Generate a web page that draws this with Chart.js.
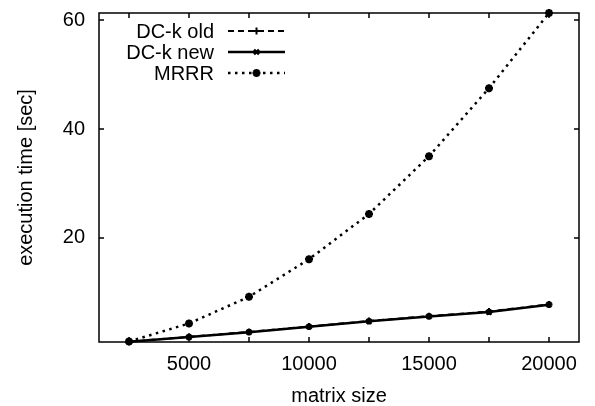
<!DOCTYPE html>
<html>
<head>
<meta charset="utf-8">
<script src="https://cdn.jsdelivr.net/npm/chart.js@4/dist/chart.umd.min.js"></script>
<style>
  html, body { margin: 0; padding: 0; background: #fff; }
  #wrap { width: 595px; height: 406px; }
</style>
</head>
<body>
<div id="wrap"><canvas id="timeChart" width="595" height="406"></canvas></div>
<script>
// data
const sizes = [2500, 5000, 7500, 10000, 12500, 15000, 17500, 20000];
const dckOld = [0.95, 1.85, 2.75, 3.75, 4.75, 5.65, 6.5, 7.8];
const dckNew = [0.95, 1.8, 2.7, 3.7, 4.7, 5.6, 6.4, 7.75];
const mrrr = [1.0, 4.3, 9.2, 16.1, 24.4, 35.0, 47.5, 61.3];

const xTicks = [2500, 5000, 7500, 10000, 12500, 15000, 17500, 20000];
const yTicks = [20, 40, 60];

const FONT = 'Liberation Sans, Arial, sans-serif';

function pts(ys) {
    return sizes.map((x, i) => ({ x: x, y: ys[i] }));
}

// gnuplot style: frame + inward ticks on all four sides
const framePlugin = {
    id: 'frame',
    afterDraw(chart) {
        const { ctx, chartArea: a, scales } = chart;
        ctx.save();
        ctx.strokeStyle = '#000';
        ctx.lineWidth = 1.5;
        ctx.strokeRect(a.left, a.top, a.right - a.left, a.bottom - a.top);
        ctx.beginPath();
        xTicks.forEach(v => {
            const px = scales.x.getPixelForValue(v);
            ctx.moveTo(px, a.bottom); ctx.lineTo(px, a.bottom - 5);
            ctx.moveTo(px, a.top); ctx.lineTo(px, a.top + 5);
        });
        yTicks.forEach(v => {
            const py = scales.y.getPixelForValue(v);
            ctx.moveTo(a.left, py); ctx.lineTo(a.left + 5, py);
            ctx.moveTo(a.right, py); ctx.lineTo(a.right - 5, py);
        });
        ctx.stroke();
        ctx.restore();
    }
};

// legend inside the plot, text right-aligned before the sample
const keyPlugin = {
    id: 'key',
    afterDraw(chart) {
        const ctx = chart.ctx;
        const textRight = 214, x0 = 228, x1 = 285, rows = [31, 52, 73];
        ctx.save();
        ctx.font = '20px ' + FONT;
        ctx.textAlign = 'right';
        ctx.textBaseline = 'middle';
        chart.data.datasets.forEach((ds, i) => {
            const y = rows[i];
            ctx.fillStyle = '#000';
            ctx.fillText(ds.label, textRight, y + 1);
            ctx.beginPath();
            ctx.setLineDash(ds.borderDash || []);
            ctx.lineWidth = ds.borderWidth;
            ctx.strokeStyle = ds.borderColor;
            ctx.moveTo(x0, y); ctx.lineTo(x1, y);
            ctx.stroke();
            ctx.setLineDash([]);
            ctx.lineWidth = ds.pointBorderWidth;
            Chart.helpers.drawPoint(ctx, {
                pointStyle: ds.pointStyle,
                radius: ds.pointRadius,
                rotation: 0,
                borderWidth: ds.pointBorderWidth
            }, (x0 + x1) / 2, y);
        });
        ctx.restore();
    }
};

// drop the extra room Chart.js keeps for edge labels
function noPad(s) {
    s.paddingTop = 0; s.paddingBottom = 0;
    s.paddingLeft = 0; s.paddingRight = 0;
}

const ctx = document.getElementById('timeChart').getContext('2d');
new Chart(ctx, {
    type: 'line',
    data: {
        datasets: [{
            label: 'DC-k old',
            data: pts(dckOld),
            borderColor: '#000',
            backgroundColor: '#000',
            borderWidth: 2,
            borderDash: [6, 4],
            pointStyle: 'cross',
            pointRadius: 3.5,
            pointBorderWidth: 2
        }, {
            label: 'DC-k new',
            data: pts(dckNew),
            borderColor: '#000',
            backgroundColor: '#000',
            borderWidth: 2.5,
            pointStyle: 'crossRot',
            pointRadius: 3.5,
            pointBorderWidth: 2.5
        }, {
            label: 'MRRR',
            data: pts(mrrr),
            borderColor: '#000',
            backgroundColor: '#000',
            borderWidth: 2.5,
            borderDash: [2.5, 4.5],
            pointStyle: 'star',
            pointRadius: 4,
            pointBorderWidth: 2.5
        }]
    },
    options: {
        responsive: false,
        animation: false,
        clip: false,
        elements: { line: { tension: 0 } },
        layout: { padding: { top: 13, right: 16, left: 0, bottom: 0 } },
        plugins: {
            legend: { display: false },
            tooltip: { enabled: false }
        },
        scales: {
            x: {
                type: 'linear',
                min: 1250,
                max: 21250,
                afterBuildTicks: s => { s.ticks = xTicks.map(v => ({ value: v })); },
                afterFit: s => { s.height = 64; noPad(s); },
                grid: { display: false, drawTicks: false },
                border: { display: false },
                ticks: {
                    color: '#000',
                    font: { family: FONT, size: 20 },
                    padding: 10,
                    maxRotation: 0,
                    autoSkip: false,
                    callback: v => (v % 5000 === 0 ? String(v) : '')
                },
                title: {
                    display: true,
                    text: 'matrix size',
                    color: '#000',
                    font: { family: FONT, size: 20 },
                    padding: { top: 0, bottom: -2 }
                }
            },
            y: {
                min: 0.9,
                max: 61.3,
                afterBuildTicks: s => { s.ticks = yTicks.map(v => ({ value: v })); },
                afterFit: s => { s.width = 99; noPad(s); },
                grid: { display: false, drawTicks: false },
                border: { display: false },
                ticks: {
                    color: '#000',
                    font: { family: FONT, size: 20 },
                    padding: 14,
                    autoSkip: false
                },
                title: {
                    display: true,
                    text: 'execution time [sec]',
                    color: '#000',
                    font: { family: FONT, size: 20 },
                    padding: { top: 14, bottom: 0 }
                }
            }
        }
    },
    plugins: [framePlugin, keyPlugin]
});
</script>
</body>
</html>
